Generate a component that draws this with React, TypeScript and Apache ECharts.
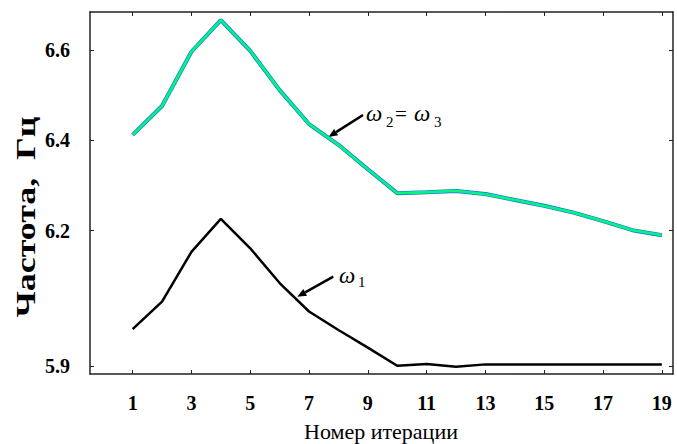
import React, { useEffect, useRef } from "react";
import * as echarts from "echarts";

const iterations = [1, 2, 3, 4, 5, 6, 7, 8, 9, 10, 11, 12, 13, 14, 15, 16, 17, 18, 19];
const omega1 = [5.982, 6.043, 6.153, 6.226, 6.161, 6.084, 6.021, 5.98, 5.941, 5.901, 5.905, 5.899, 5.904, 5.904, 5.904, 5.904, 5.904, 5.904, 5.904];
const omega2 = [6.412, 6.476, 6.596, 6.666, 6.598, 6.511, 6.436, 6.39, 6.336, 6.283, 6.285, 6.288, 6.281, 6.268, 6.255, 6.24, 6.221, 6.201, 6.19];
const omega3 = omega2.slice();
const xTickValues = [1, 3, 5, 7, 9, 11, 13, 15, 17, 19];
const yTickValues = [5.9, 6.2, 6.4, 6.6];

const SERIF = '"Liberation Serif", "Times New Roman", serif';

export default function App() {
  const ref = useRef<HTMLDivElement>(null);
  useEffect(() => {
    if (!ref.current) return;
    const chart = echarts.init(ref.current, null, { renderer: "svg" });
    const pair = (ys: number[]) => iterations.map((x, i) => [x, ys[i]]);
    const xRange = { min: -0.45, max: 19.38 };
    const yRange = { min: 5.8827, max: 6.684 };
    const frameLine = { show: true, onZero: false, lineStyle: { color: "#222", width: 1.5 } };
    const tick = (vals: number[]) => ({ show: true, inside: true, length: 4, customValues: vals, lineStyle: { color: "#222", width: 1 } });

    const arrow = (x1: number, y1: number, x2: number, y2: number) => {
      const dx = x2 - x1, dy = y2 - y1;
      const len = Math.hypot(dx, dy);
      const ux = dx / len, uy = dy / len;
      const hl = 9, hw = 3.8;
      const bx = x2 - ux * hl, by = y2 - uy * hl;
      const px = -uy, py = ux;
      return [
        { type: "line", shape: { x1, y1, x2: bx, y2: by }, style: { stroke: "#000", lineWidth: 2.5 } },
        { type: "polygon", shape: { points: [[x2, y2], [bx + px * hw, by + py * hw], [bx - px * hw, by - py * hw]] }, style: { fill: "#000" } },
      ];
    };
    const txt = (text: string, x: number, y: number, size: number, italic: boolean) => ({
      type: "text",
      x,
      y,
      style: { text, fontFamily: SERIF, fontSize: size, fontStyle: italic ? "italic" : "normal", fill: "#000", textAlign: "left", textVerticalAlign: "middle" },
    });

    chart.setOption({
      animation: false,
      backgroundColor: "#fff",
      grid: { left: 90, top: 12, right: 4, bottom: 70 },
      xAxis: [
        {
          type: "value", ...xRange, position: "bottom",
          axisLine: frameLine, axisTick: tick(xTickValues), splitLine: { show: false },
          axisLabel: { customValues: xTickValues, fontFamily: SERIF, fontWeight: "bold", fontSize: 20, color: "#000", margin: 19 },
        },
        {
          type: "value", ...xRange, position: "top",
          axisLine: frameLine, axisTick: tick(xTickValues), axisLabel: { show: false }, splitLine: { show: false },
        },
      ],
      yAxis: [
        {
          type: "value", ...yRange, position: "left",
          axisLine: frameLine, axisTick: tick(yTickValues), splitLine: { show: false },
          axisLabel: { customValues: yTickValues, formatter: (v: number) => v.toFixed(1), fontFamily: SERIF, fontWeight: "bold", fontSize: 20, color: "#000", margin: 20 },
        },
        {
          type: "value", ...yRange, position: "right",
          axisLine: frameLine, axisTick: tick(yTickValues), axisLabel: { show: false }, splitLine: { show: false },
        },
      ],
      series: [
        { name: "ω1", type: "line", data: pair(omega1), showSymbol: false, lineStyle: { color: "#000", width: 2.5 } },
        { name: "ω2", type: "line", data: pair(omega2), showSymbol: false, lineStyle: { color: "#1f5fff", width: 4 } },
        { name: "ω3", type: "line", data: pair(omega3), showSymbol: false, lineStyle: { color: "#00f57c", width: 2.8 } },
      ],
      graphic: [
        ...arrow(363, 115, 328.5, 137),
        ...arrow(333.3, 276.7, 297.3, 296.7),
        txt("ω", 366, 113, 23, true),
        txt("2", 386, 122, 15, false),
        txt("=", 395, 114, 21, false),
        txt("ω", 414, 113, 23, true),
        txt("3", 434, 122, 15, false),
        txt("ω", 339, 275, 23, true),
        txt("1", 358, 282, 15, false),
        {
          type: "text", x: 25, y: 217, rotation: Math.PI / 2, scaleX: 1.28,
          style: { text: "Частота,  Гц", fontFamily: SERIF, fontWeight: "bold", fontSize: 28, fill: "#000", textAlign: "center", textVerticalAlign: "middle" },
        },
        {
          type: "text", x: 381, y: 431,
          style: { text: "Номер итерации", fontFamily: SERIF, fontSize: 22, fill: "#000", textAlign: "center", textVerticalAlign: "middle" },
        },
      ],
    });
    return () => chart.dispose();
  }, []);
  return <div ref={ref} style={{ position: "absolute", left: 0, top: 0, width: 677, height: 444 }} />;
}
